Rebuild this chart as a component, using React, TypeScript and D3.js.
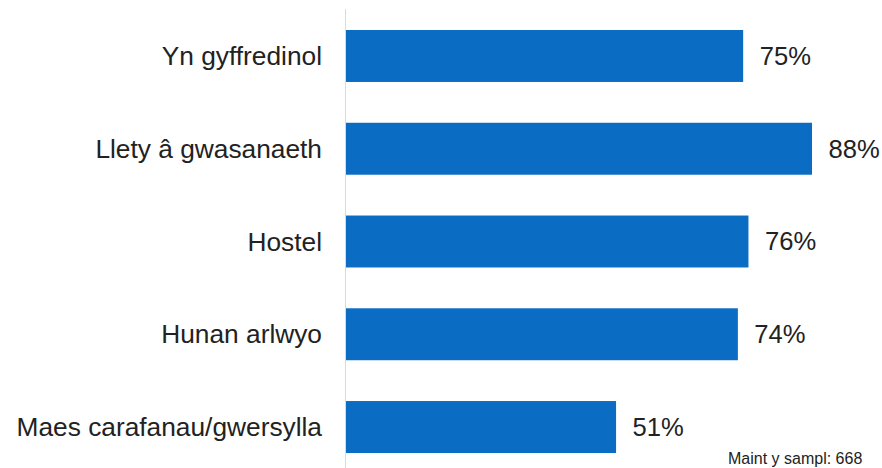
import React from "react";
import * as d3 from "d3";

const categories = [
  "Yn gyffredinol",
  "Llety â gwasanaeth",
  "Hostel",
  "Hunan arlwyo",
  "Maes carafanau/gwersylla",
];
const values = [75, 88, 76, 74, 51];
const footnote = "Maint y sampl: 668";

const W = 882;
const H = 468;

export default function App() {
  const x = d3.scaleLinear().domain([0, 88]).range([346, 812]);
  const y = d3
    .scaleBand<string>()
    .domain(categories)
    .range([-10.8, 493.8])
    .paddingInner(0.44)
    .paddingOuter(0.44);
  const bw = y.bandwidth();
  const font = "Arial, 'Liberation Sans', sans-serif";
  return (
    <svg
      width={W}
      height={H}
      style={{ position: "absolute", left: 0, top: 0, background: "#fff" }}
      fontFamily={font}
    >
      <line x1={345.5} x2={345.5} y1={9} y2={H} stroke="#d9d9d9" strokeWidth={1} />
      {categories.map((c, i) => {
        const yy = y(c)!;
        const v = values[i];
        return (
          <g key={c}>
            <rect x={x(0)} y={yy} width={x(v) - x(0)} height={bw} fill="#0a6cc2" />
            <text
              x={322}
              y={yy + bw / 2}
              dy="0.35em"
              textAnchor="end"
              fontSize={26.3}
              fill="#222"
            >
              {c}
            </text>
            <text
              x={x(v) + 16.5}
              y={yy + bw / 2}
              dy="0.35em"
              textAnchor="start"
              fontSize={25.6}
              fill="#222"
            >
              {v}%
            </text>
          </g>
        );
      })}
      <text x={728} y={464} fontSize={16} fill="#222">
        {footnote}
      </text>
    </svg>
  );
}
